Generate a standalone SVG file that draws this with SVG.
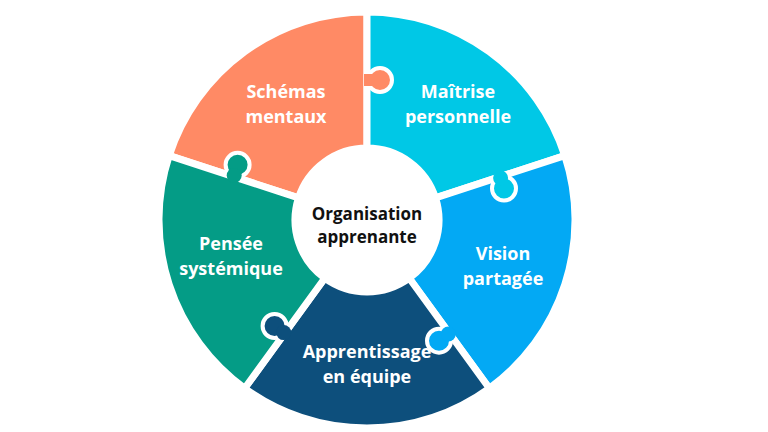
<svg xmlns="http://www.w3.org/2000/svg" width="768" height="432" viewBox="0 0 768 432">
<style>
.p{stroke:#fff;stroke-width:7;stroke-linejoin:round}
.k{stroke:#fff;stroke-width:4}
.t{font-family:"Open Sans",sans-serif;font-weight:bold;font-size:18px;fill:#fff;text-anchor:middle}
.c{font-family:"Open Sans",sans-serif;font-weight:bold;font-size:17px;fill:#111;text-anchor:middle}
</style>
<rect width="768" height="432" fill="#fff"/>
<g id="schemas">
<path class="p" fill="#FF8A65" d="M169.2,155.7 A208,208 0 0 1 367,12 L367,148 A72,72 0 0 0 298.5,197.8 Z"/>
</g>
<g id="maitrise">
<path class="p" fill="#00C8E6" d="M367,12 A208,208 0 0 1 564.8,155.7 L435.5,197.8 A72,72 0 0 0 367,148 Z"/>
</g>
<g id="vision">
<path class="p" fill="#03A9F4" d="M564.8,155.7 A208,208 0 0 1 489.3,388.3 L409.3,278.2 A72,72 0 0 0 435.5,197.8 Z"/>
</g>
<g id="equipe">
<path class="p" fill="#0D4F7C" d="M489.3,388.3 A208,208 0 0 1 244.7,388.3 L324.7,278.2 A72,72 0 0 0 409.3,278.2 Z"/>
</g>
<g id="pensee">
<path class="p" fill="#049C86" d="M244.7,388.3 A208,208 0 0 1 169.2,155.7 L298.5,197.8 A72,72 0 0 0 324.7,278.2 Z"/>
</g>
<g id="knobs">
<circle class="k" fill="#FF8A65" cx="380" cy="80" r="12"/><rect fill="#FF8A65" x="364" y="74" width="12" height="12"/>
<circle class="k" fill="#00C8E6" cx="504" cy="188.5" r="12"/><circle fill="#00C8E6" cx="500.6" cy="178" r="7.5"/>
<circle class="k" fill="#03A9F4" cx="439" cy="340.7" r="12"/><circle fill="#03A9F4" cx="448.3" cy="334" r="7.5"/>
<circle class="k" fill="#0D4F7C" cx="274.6" cy="326" r="12"/><circle fill="#0D4F7C" cx="283.7" cy="332.6" r="7.5"/>
<circle class="k" fill="#049C86" cx="237.6" cy="164.8" r="12"/><circle fill="#049C86" cx="234.2" cy="175.5" r="7.5"/>
</g>
<g id="center">
<circle cx="367" cy="220" r="68" fill="#fff"/>
<text class="c" x="367" y="220">Organisation</text>
<text class="c" x="367" y="243">apprenante</text>
</g>
<g id="labels">
<text class="t" x="286" y="98">Schémas</text><text class="t" x="286" y="123">mentaux</text>
<text class="t" x="458" y="98">Maîtrise</text><text class="t" x="458" y="123">personnelle</text>
<text class="t" x="503" y="260">Vision</text><text class="t" x="503" y="285">partagée</text>
<text class="t" x="367" y="358">Apprentissage</text><text class="t" x="367" y="383">en équipe</text>
<text class="t" x="231" y="250">Pensée</text><text class="t" x="231" y="275">systémique</text>
</g>
</svg>
